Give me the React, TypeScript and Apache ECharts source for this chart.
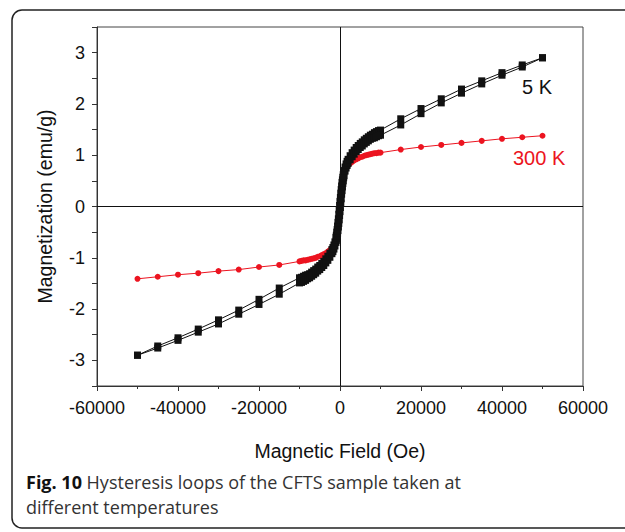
import React, { useEffect, useRef } from "react";
import * as echarts from "echarts";

const fields = [
  -50000, -45000, -40000, -35000, -30000, -25000, -20000, -15000,
  -10000, -9500, -9000, -8500, -8000, -7500, -7000, -6500, -6000, -5500, -5000, -4500, -4000, -3500, -3000, -2500, -2000,
  -1750, -1500, -1250, -1000, -900, -800, -700, -600, -500, -400, -300, -200, -100, 0,
  100, 200, 300, 400, 500, 600, 700, 800, 900, 1000, 1250, 1500, 1750,
  2000, 2500, 3000, 3500, 4000, 4500, 5000, 5500, 6000, 6500, 7000, 7500, 8000, 8500, 9000, 9500, 10000,
  15000, 20000, 25000, 30000, 35000, 40000, 45000, 50000,
];

// 5 K, descending branch (field swept from +50 kOe to -50 kOe)
const m5kDescending = [
  -2.90, -2.72, -2.56, -2.39, -2.21, -2.02, -1.81, -1.59,
  -1.39, -1.38, -1.36, -1.34, -1.33, -1.31, -1.28, -1.25, -1.22, -1.18, -1.15, -1.11, -1.07, -1.02, -0.97, -0.91, -0.84,
  -0.80, -0.75, -0.69, -0.60, -0.56, -0.50, -0.45, -0.38, -0.31, -0.24, -0.15, -0.06, 0.02, 0.10,
  0.18, 0.26, 0.33, 0.40, 0.47, 0.52, 0.57, 0.62, 0.66, 0.70, 0.77, 0.83, 0.88,
  0.92, 0.99, 1.05, 1.10, 1.15, 1.19, 1.23, 1.26, 1.30, 1.33, 1.36, 1.39, 1.41, 1.44, 1.46, 1.48, 1.49,
  1.71, 1.91, 2.10, 2.29, 2.45, 2.61, 2.76, 2.90,
];

// 5 K, ascending branch (field swept from -50 kOe to +50 kOe)
const m5kAscending = [
  -2.90, -2.76, -2.61, -2.45, -2.29, -2.10, -1.91, -1.71,
  -1.49, -1.48, -1.46, -1.44, -1.41, -1.39, -1.36, -1.33, -1.30, -1.26, -1.23, -1.19, -1.15, -1.10, -1.05, -0.99, -0.92,
  -0.88, -0.83, -0.77, -0.70, -0.66, -0.62, -0.57, -0.52, -0.47, -0.40, -0.33, -0.26, -0.18, -0.10,
  -0.02, 0.06, 0.15, 0.24, 0.31, 0.38, 0.45, 0.50, 0.56, 0.60, 0.69, 0.75, 0.80,
  0.84, 0.91, 0.97, 1.02, 1.07, 1.11, 1.15, 1.18, 1.22, 1.25, 1.28, 1.31, 1.33, 1.34, 1.36, 1.38, 1.39,
  1.59, 1.81, 2.02, 2.21, 2.39, 2.56, 2.72, 2.90,
];

// 300 K
const m300k = [
  -1.41, -1.37, -1.33, -1.30, -1.26, -1.23, -1.18, -1.14,
  -1.07, -1.06, -1.05, -1.05, -1.04, -1.03, -1.02, -1.01, -1.00, -0.98, -0.97, -0.95, -0.93, -0.91, -0.88, -0.85, -0.81,
  -0.78, -0.75, -0.70, -0.63, -0.59, -0.55, -0.50, -0.45, -0.39, -0.32, -0.24, -0.16, -0.08, 0,
  0.08, 0.16, 0.24, 0.31, 0.38, 0.44, 0.49, 0.54, 0.58, 0.62, 0.69, 0.74, 0.77,
  0.80, 0.84, 0.87, 0.90, 0.92, 0.94, 0.96, 0.97, 0.99, 1.00, 1.01, 1.02, 1.03, 1.04, 1.04, 1.05, 1.05,
  1.11, 1.16, 1.20, 1.24, 1.28, 1.32, 1.35, 1.38,
];

const seriesLabels = ["5 K", "300 K"];
const xAxisTitle = "Magnetic Field (Oe)";
const yAxisTitle = "Magnetization (emu/g)";
const captionBold = "Fig. 10";
const captionLine1 = " Hysteresis loops of the CFTS sample taken at";
const captionLine2 = "different temperatures";

const FONT = "'Liberation Sans', Arial, sans-serif";
const BLACK = "#111111";
const RED = "#ec1420";

export default function App() {
  const ref = useRef<HTMLDivElement>(null);

  useEffect(() => {
    if (!ref.current) return;
    const chart = echarts.init(ref.current, null, { renderer: "svg" });

    const loop5k = fields
      .map((f, i) => [f, m5kDescending[i]])
      .reverse()
      .concat(fields.map((f, i) => [f, m5kAscending[i]]));
    const curve300k = fields.map((f, i) => [f, m300k[i]]);

    chart.setOption({
      animation: false,
      backgroundColor: "#ffffff",
      textStyle: { fontFamily: FONT },
      grid: {
        left: 97,
        top: 27,
        right: 42,
        bottom: 146,
        show: true,
        borderColor: "#444",
        borderWidth: 1,
        backgroundColor: "transparent",
      },
      xAxis: {
        type: "value",
        min: -60000,
        max: 60000,
        interval: 20000,
        name: xAxisTitle,
        nameLocation: "middle",
        nameGap: 55,
        nameTextStyle: { fontSize: 19.5, color: BLACK, fontFamily: FONT },
        axisLine: { show: true, onZero: false, lineStyle: { color: "#333", width: 1 } },
        axisTick: { show: true, inside: false, length: 5, lineStyle: { color: "#333" } },
        minorTick: { show: true, splitNumber: 2, length: 3, lineStyle: { color: "#333" } },
        axisLabel: {
          fontSize: 18,
          color: BLACK,
          margin: 13,
          fontFamily: FONT,
          formatter: (v: number) => String(v),
        },
        splitLine: { show: false },
      },
      yAxis: {
        type: "value",
        min: -3.5,
        max: 3.5,
        interval: 0.5,
        name: yAxisTitle,
        nameLocation: "middle",
        nameGap: 42,
        nameTextStyle: { fontSize: 19.5, color: BLACK, fontFamily: FONT },
        axisLine: { show: true, onZero: false, lineStyle: { color: "#333", width: 1 } },
        axisTick: { show: true, inside: false, length: 5, lineStyle: { color: "#333" } },
        axisLabel: {
          fontSize: 18,
          color: BLACK,
          margin: 12,
          fontFamily: FONT,
          formatter: (v: number) => (Math.abs(v - Math.round(v)) < 1e-9 ? String(Math.round(v)) : ""),
        },
        splitLine: { show: false },
      },
      series: [
        {
          type: "line",
          data: [],
          z: 1,
          silent: true,
          markLine: {
            silent: true,
            symbol: ["none", "none"],
            label: { show: false },
            lineStyle: { color: "#111", width: 1, type: "solid" },
            data: [{ xAxis: 0 }, { yAxis: 0 }],
          },
        },
        {
          name: seriesLabels[1],
          type: "line",
          data: curve300k,
          z: 3,
          symbol: "circle",
          symbolSize: 6,
          showAllSymbol: true,
          lineStyle: { color: RED, width: 1 },
          itemStyle: { color: RED, borderWidth: 0 },
        },
        {
          name: seriesLabels[0],
          type: "line",
          data: loop5k,
          z: 4,
          symbol: "rect",
          symbolSize: 7,
          showAllSymbol: true,
          lineStyle: { color: BLACK, width: 1 },
          itemStyle: { color: BLACK, borderWidth: 0 },
        },
      ],
      graphic: [
        {
          type: "rect",
          shape: { x: 12, y: 10, width: 660, height: 518, r: 10 },
          style: { fill: "none", stroke: "#222", lineWidth: 1.5 },
          silent: true,
        },
        {
          type: "text",
          left: 522,
          top: 77,
          style: { text: seriesLabels[0], fill: BLACK, font: `20px ${FONT}` },
        },
        {
          type: "text",
          left: 513,
          top: 148,
          style: { text: seriesLabels[1], fill: RED, font: `20px ${FONT}` },
        },
        {
          type: "text",
          left: 26,
          top: 473,
          style: {
            text: `{b|${captionBold}}{r|${captionLine1}}\n{r|${captionLine2}}`,
            rich: {
              b: { fontFamily: "'Open Sans', sans-serif", fontWeight: "bold", fontSize: 18, fill: "#111", lineHeight: 25 },
              r: { fontFamily: "'Open Sans', sans-serif", fontSize: 18, fill: "#333", lineHeight: 25 },
            },
          },
        },
      ],
    });

    return () => chart.dispose();
  }, []);

  return (
    <div
      ref={ref}
      style={{ position: "fixed", left: 0, top: 0, width: 625, height: 532, background: "#fff" }}
    />
  );
}
